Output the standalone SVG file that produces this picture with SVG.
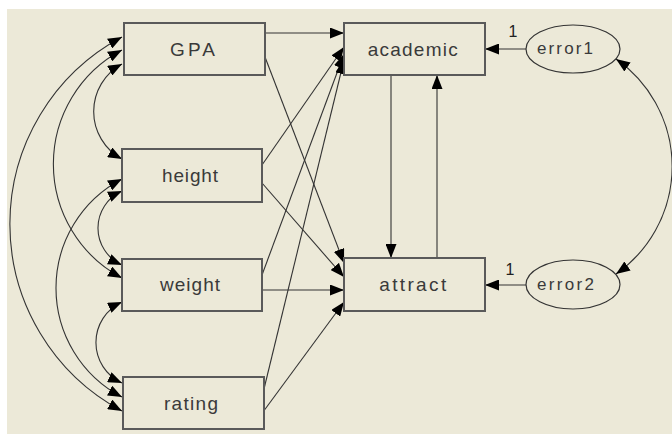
<svg xmlns="http://www.w3.org/2000/svg" width="672" height="434" viewBox="0 0 672 434">
<style>
.bg{fill:#ECE9D8}
.box{fill:#ECE9D8;stroke:#5a5a5a;stroke-width:2}
.ell{fill:#ECE9D8;stroke:#333;stroke-width:1.2}
.lbl{font-family:"Liberation Sans",Arial,sans-serif;font-size:19px;fill:#3a3a3a;text-anchor:middle}
.elbl{font-family:"Liberation Sans",Arial,sans-serif;font-size:17px;fill:#3a3a3a;text-anchor:middle}
.num{font-family:"Liberation Sans",Arial,sans-serif;font-size:16px;fill:#222;text-anchor:middle}
.c{fill:none;stroke:#333;stroke-width:1.1}
.one{marker-end:url(#ah)}
.two{marker-start:url(#ah);marker-end:url(#ah)}
</style>
<defs>
<marker id="ah" viewBox="0 0 14 11" refX="14" refY="5.5" markerWidth="14" markerHeight="11" markerUnits="userSpaceOnUse" orient="auto-start-reverse">
<path d="M0,0 L14,5.5 L0,11 z" fill="#000"/>
</marker>
</defs>
<rect width="672" height="434" fill="#fff"/>
<rect class="bg" x="7" y="9" width="665" height="425"/>
<g id="connectors">
<path class="c one" d="M265,33 L344,33"/>
<path class="c one" d="M262,165 L344,47"/>
<path class="c one" d="M262,275 L344,54"/>
<path class="c one" d="M263,393 L344,60"/>
<path class="c one" d="M265,57 L344,263"/>
<path class="c one" d="M262,183 L344,277"/>
<path class="c one" d="M262,290 L344,290"/>
<path class="c one" d="M263,412 L344,302"/>
<path class="c one" d="M391,75 L391,258"/>
<path class="c one" d="M437,258 L437,75"/>
<path class="c one" d="M526,49 L485,49"/>
<path class="c one" d="M526,285 L485,285"/>
<path class="c two" d="M122,37 A212,212 0 0 0 122,411"/>
<path class="c two" d="M122,50 A129,129 0 0 0 122,278"/>
<path class="c two" d="M122,64 A54,54 0 0 0 122,159"/>
<path class="c two" d="M122,179 A123,123 0 0 0 122,397"/>
<path class="c two" d="M122,191 A40.5,40.5 0 0 0 122,265"/>
<path class="c two" d="M122,302 A44.5,44.5 0 0 0 122,383"/>
<path class="c two" d="M616,59 A131,131 0 0 1 616,274"/>
<text class="num" x="513" y="37">1</text>
<text class="num" x="510" y="275">1</text>
</g>
<g id="GPA"><rect class="box" x="124" y="23" width="141" height="52"/><text class="lbl" x="192.5" y="56" textLength="45" lengthAdjust="spacing">GPA</text></g>
<g id="height"><rect class="box" x="122" y="149" width="140" height="53"/><text class="lbl" x="190" y="182" textLength="56" lengthAdjust="spacing">height</text></g>
<g id="weight"><rect class="box" x="122" y="259" width="140" height="52"/><text class="lbl" x="190" y="291" textLength="60" lengthAdjust="spacing">weight</text></g>
<g id="rating"><rect class="box" x="123" y="377" width="141" height="52"/><text class="lbl" x="191" y="410" textLength="54" lengthAdjust="spacing">rating</text></g>
<g id="academic"><rect class="box" x="344" y="23" width="141" height="52"/><text class="lbl" x="412.7" y="56" textLength="90" lengthAdjust="spacing">academic</text></g>
<g id="attract"><rect class="box" x="344" y="258" width="141" height="53"/><text class="lbl" x="412.7" y="291" textLength="67" lengthAdjust="spacing">attract</text></g>
<g id="error1"><ellipse class="ell" cx="573" cy="49" rx="47" ry="24"/><text class="elbl" x="565" y="54" textLength="56" lengthAdjust="spacing">error1</text></g>
<g id="error2"><ellipse class="ell" cx="573" cy="284.5" rx="47" ry="24.5"/><text class="elbl" x="565.5" y="290" textLength="57" lengthAdjust="spacing">error2</text></g>
</svg>
